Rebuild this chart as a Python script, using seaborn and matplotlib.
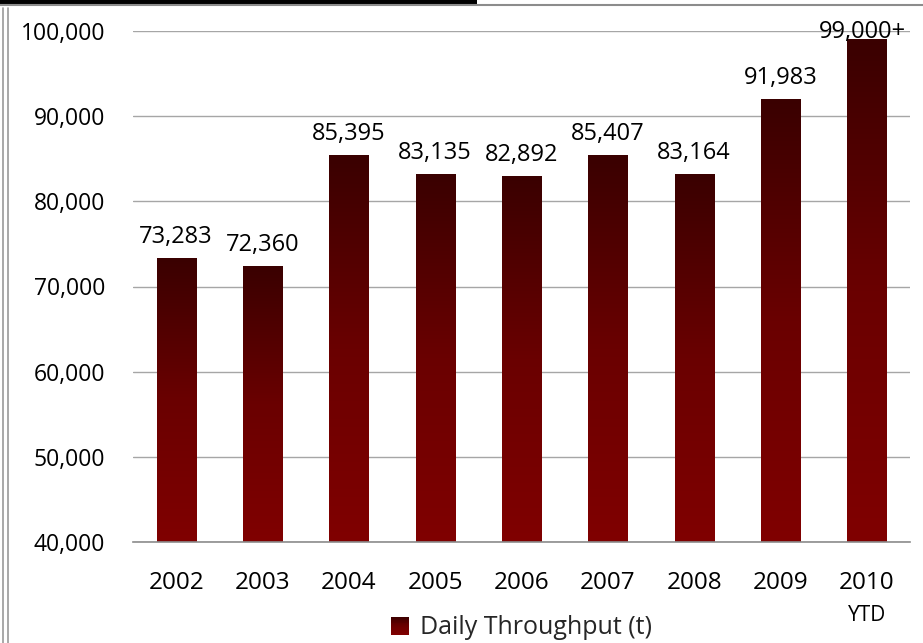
import matplotlib
matplotlib.use('Agg')
import numpy as np
import pandas as pd
import seaborn as sns
import matplotlib.pyplot as plt
from matplotlib.colors import LinearSegmentedColormap
from matplotlib.patches import Rectangle, Patch
from matplotlib.lines import Line2D
from matplotlib.ticker import FuncFormatter, FixedLocator
from matplotlib.legend_handler import HandlerPatch

# ---- data ----
years = ['2002', '2003', '2004', '2005', '2006', '2007', '2008', '2009', '2010']
throughput = [73283, 72360, 85395, 83135, 82892, 85407, 83164, 91983, 99000]
value_labels = ['73,283', '72,360', '85,395', '83,135', '82,892', '85,407',
                '83,164', '91,983', '99,000+']
ytd_note = 'YTD'
series_name = 'Daily Throughput (t)'
y_ticks = [40000, 50000, 60000, 70000, 80000, 90000, 100000]

df = pd.DataFrame({'Year': years, 'Throughput': throughput})

sns.set_theme(style='white')
plt.rcParams['font.family'] = ['Open Sans', 'DejaVu Sans']

W, H = 923, 643
fig = plt.figure(figsize=(W / 100, H / 100), dpi=100)
fig.patch.set_facecolor('white')
ax_l, ax_r, ax_t, ax_b = 133, 910, 31, 542
ax = fig.add_axes([ax_l / W, 1 - ax_b / H, (ax_r - ax_l) / W, (ax_b - ax_t) / H])

cmap = LinearSegmentedColormap.from_list('grad', ['#800000', '#6a0000', '#3a0000'])

sns.barplot(data=df, x='Year', y='Throughput', color='#800000', width=0.455,
            ax=ax, saturation=1)
ax.set_ylim(40000, 100000)
ax.set_xlim(-0.5, len(years) - 0.5)

grad = np.linspace(0, 1, 256).reshape(-1, 1)
for p in ax.patches:
    x0 = p.get_x()
    w = p.get_width()
    top = p.get_y() + p.get_height()
    p.set_facecolor('none')
    p.set_edgecolor('none')
    ax.imshow(grad, extent=(x0, x0 + w, 40000, top), origin='lower',
              aspect='auto', cmap=cmap, zorder=2, interpolation='bilinear')
ax.set_aspect('auto')
ax.set_xlim(-0.5, len(years) - 0.5)
ax.set_ylim(40000, 100000)

# grid & spines
ax.yaxis.set_major_locator(FixedLocator(y_ticks))
ax.yaxis.grid(True, color='#a6a6a6', lw=1)
ax.set_axisbelow(True)
for s in ['left', 'top', 'right']:
    ax.spines[s].set_visible(False)
ax.spines['bottom'].set_color('#8c8c8c')
ax.spines['bottom'].set_linewidth(1.2)
ax.spines['bottom'].set_zorder(3)

ax.yaxis.set_major_formatter(FuncFormatter(lambda v, _: f'{int(v):,}'))
ax.tick_params(axis='y', length=0, pad=20, labelsize=16.5, labelcolor='#000000')
ax.tick_params(axis='x', length=0, pad=21, labelsize=17.5, labelcolor='#000000')
ax.set_xlabel('')
ax.set_ylabel('')

# value labels
for i, (v, lab) in enumerate(zip(throughput, value_labels)):
    if v > 97000:
        ax.annotate(lab, (i, 100000), xytext=(-3, -1), textcoords='offset points',
                    ha='center', va='center', fontsize=17, color='black',
                    annotation_clip=False, zorder=5)
    else:
        ax.annotate(lab, (i, v), xytext=(0, 7), textcoords='offset points',
                    ha='center', va='bottom', fontsize=17, color='black',
                    annotation_clip=False)

# YTD sub-label under the last year
ax.annotate(ytd_note, (len(years) - 1, 40000), xytext=(0, -53),
            textcoords='offset points', ha='center', va='center',
            fontsize=15, color='black', annotation_clip=False)

# legend with gradient swatch
class GradHandler(HandlerPatch):
    def create_artists(self, legend, orig_handle, xdescent, ydescent,
                       width, height, fontsize, trans):
        arts = []
        n = 24
        for k in range(n):
            r = Rectangle((-xdescent, -ydescent + height * k / n), width,
                          height / n * 1.05, facecolor=cmap(k / (n - 1)),
                          edgecolor='none', transform=trans)
            arts.append(r)
        return arts

handle = Patch(facecolor='#600000', label=series_name)
leg = fig.legend(handles=[handle], labels=[series_name],
                 handler_map={Patch: GradHandler()},
                 loc='center', bbox_to_anchor=((ax_l + ax_r) / 2 / W, 1 - 628 / H),
                 frameon=False, fontsize=18, handlelength=0.75, handleheight=0.75,
                 handletextpad=0.45, borderpad=0)

# page decorations (top rule and left double border)
fig.add_artist(Line2D([0, 1], [1 - 4.5 / H, 1 - 4.5 / H], color='#8c8c8c', lw=1.5,
                      transform=fig.transFigure))
fig.add_artist(Rectangle((0, 1 - 4.5 / H), 477 / W, 4.5 / H, facecolor='black',
                         edgecolor='none', transform=fig.transFigure))
for xp in [2.5, 8]:
    fig.add_artist(Line2D([xp / W, xp / W], [0, 1 - 8 / H], color='#9a9a9a', lw=1.2,
                          transform=fig.transFigure))

fig.savefig('out.png', dpi=100)
